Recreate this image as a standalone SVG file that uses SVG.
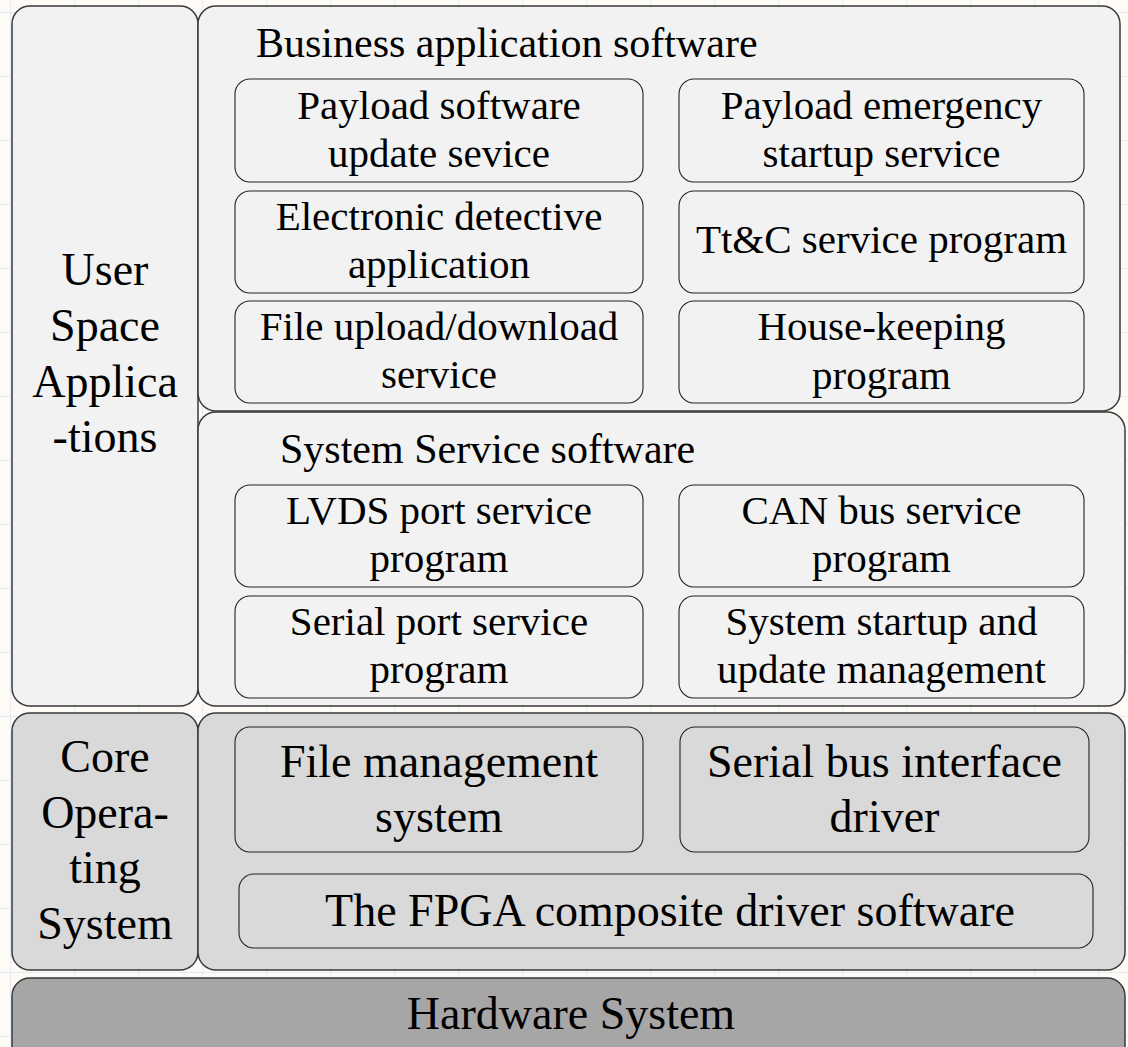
<svg xmlns="http://www.w3.org/2000/svg" width="1128" height="1047" viewBox="0 0 1128 1047">
<defs>
<pattern id="grid" x="10" y="12" width="64" height="64" patternUnits="userSpaceOnUse">
<path d="M0 0H64M0 0V64" fill="none" stroke="#dde5f6" stroke-width="1.5"/>
</pattern>
</defs>
<style>
text{font-family:"Liberation Serif","Times New Roman",serif;fill:#000;text-anchor:middle}
.outer{stroke:#3a3a3a;stroke-width:1.5}
.inner{stroke:#222;stroke-width:1.1}
.l1{fill:#f2f2f2}
.l2{fill:#d9d9d9}
.l3{fill:#a6a6a6}
.t41{font-size:41px}
.t42{font-size:42px}
.t46{font-size:46px}
</style>
<rect width="1128" height="1047" fill="#fefbf6"/>
<rect width="1128" height="1047" fill="url(#grid)"/>

<g id="user-space">
<rect class="outer l1" x="12" y="6" width="186" height="700" rx="18"/>
<text class="t46" x="105" y="285">User</text>
<text class="t46" x="105" y="341">Space</text>
<text class="t46" x="105" y="397">Applica</text>
<text class="t46" x="105" y="452">-tions</text>
</g>

<g id="business">
<rect class="outer l1" x="198" y="6" width="922" height="405" rx="18"/>
<text class="t42" x="256" y="57" style="text-anchor:start">Business application software</text>
</g>
<g id="payload-update">
<rect class="inner l1" x="235" y="79" width="408" height="103" rx="15"/>
<text class="t41" x="439" y="119">Payload software</text>
<text class="t41" x="439" y="167">update sevice</text>
</g>
<g id="payload-emergency">
<rect class="inner l1" x="679" y="79" width="405" height="103" rx="15"/>
<text class="t41" x="881.5" y="119">Payload emergency</text>
<text class="t41" x="881.5" y="167">startup service</text>
</g>
<g id="electronic">
<rect class="inner l1" x="235" y="191" width="408" height="102" rx="15"/>
<text class="t41" x="439" y="230">Electronic detective</text>
<text class="t41" x="439" y="278">application</text>
</g>
<g id="ttc">
<rect class="inner l1" x="679" y="191" width="405" height="102" rx="15"/>
<text class="t41" x="881.5" y="253">Tt&amp;C service program</text>
</g>
<g id="file-updown">
<rect class="inner l1" x="235" y="301" width="408" height="102" rx="15"/>
<text class="t41" x="439" y="340">File upload/download</text>
<text class="t41" x="439" y="388">service</text>
</g>
<g id="housekeeping">
<rect class="inner l1" x="679" y="301" width="405" height="102" rx="15"/>
<text class="t41" x="881.5" y="340">House-keeping</text>
<text class="t41" x="881.5" y="389">program</text>
</g>

<g id="system-service">
<rect class="outer l1" x="198" y="412" width="927" height="294" rx="18"/>
<text class="t42" x="280" y="463" style="text-anchor:start">System Service software</text>
</g>
<g id="lvds">
<rect class="inner l1" x="235" y="485" width="408" height="102" rx="15"/>
<text class="t41" x="439" y="524">LVDS port service</text>
<text class="t41" x="439" y="572">program</text>
</g>
<g id="can">
<rect class="inner l1" x="679" y="485" width="405" height="102" rx="15"/>
<text class="t41" x="881.5" y="524">CAN bus service</text>
<text class="t41" x="881.5" y="572">program</text>
</g>
<g id="serial-port">
<rect class="inner l1" x="235" y="596" width="408" height="102" rx="15"/>
<text class="t41" x="439" y="635">Serial port service</text>
<text class="t41" x="439" y="683">program</text>
</g>
<g id="startup">
<rect class="inner l1" x="679" y="596" width="405" height="102" rx="15"/>
<text class="t41" x="881.5" y="635">System startup and</text>
<text class="t41" x="881.5" y="683">update management</text>
</g>

<g id="core-os">
<rect class="outer l2" x="12" y="713" width="186" height="257" rx="18"/>
<text class="t46" x="105" y="772">Core</text>
<text class="t46" x="105" y="828">Opera-</text>
<text class="t46" x="105" y="883">ting</text>
<text class="t46" x="105" y="939">System</text>
</g>
<g id="core-right">
<rect class="outer l2" x="198" y="713" width="927" height="257" rx="18"/>
</g>
<g id="file-mgmt">
<rect class="inner l2" x="235" y="727" width="408" height="125" rx="15"/>
<text class="t46" x="439" y="777">File management</text>
<text class="t46" x="439" y="832">system</text>
</g>
<g id="serial-bus">
<rect class="inner l2" x="680" y="727" width="409" height="125" rx="15"/>
<text class="t46" x="884.5" y="777">Serial bus interface</text>
<text class="t46" x="884.5" y="832">driver</text>
</g>
<g id="fpga">
<rect class="inner l2" x="239" y="874" width="854" height="74" rx="15"/>
<text class="t46" x="670" y="926">The FPGA composite driver software</text>
</g>

<g id="hardware">
<rect class="outer l3" x="12" y="978" width="1113" height="90" rx="18"/>
<text class="t46" x="571" y="1029">Hardware System</text>
</g>

<g id="connectors"></g>
</svg>
